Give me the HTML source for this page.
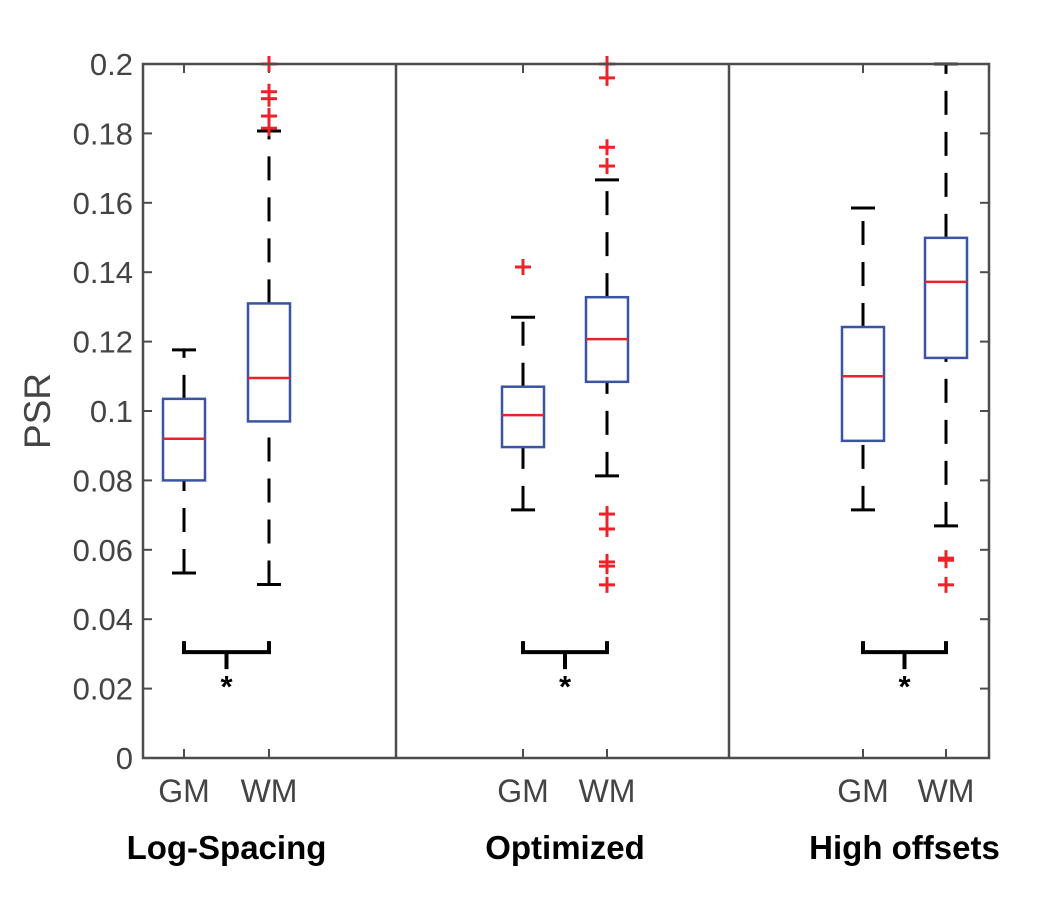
<!DOCTYPE html>
<html><head><meta charset="utf-8"><style>
body{margin:0;background:#fff}
svg{display:block;font-family:"Liberation Sans",Arial,sans-serif}
</style></head><body>
<svg id="c" width="1046" height="900"></svg>
<script>
const groups=["Log-Spacing","Optimized","High offsets"];
const cats=["GM","WM"];
const yTicks=[0,0.02,0.04,0.06,0.08,0.1,0.12,0.14,0.16,0.18,0.2];
// [lowWhisker, q1, median, q3, highWhisker]
const logGM=[0.0533,0.080,0.092,0.1035,0.1176];
const logWM=[0.050,0.097,0.1095,0.131,0.1807];
const optGM=[0.0715,0.0896,0.0988,0.107,0.127];
const optWM=[0.0813,0.1084,0.1207,0.1328,0.1666];
const hiGM=[0.0715,0.0914,0.110,0.1242,0.1585];
const hiWM=[0.0669,0.1153,0.1372,0.1499,0.200];
const logGMout=[];
const logWMout=[0.2,0.192,0.190,0.185,0.1815];
const optGMout=[0.1415];
const optWMout=[0.2,0.196,0.176,0.1706,0.0703,0.066,0.0565,0.0553,0.0499];
const hiGMout=[];
const hiWMout=[0.0576,0.0570,0.0499];
const sigY=0.0305;

const boxes=[[logGM,logWM],[optGM,optWM],[hiGM,hiWM]];
const outs=[[logGMout,logWMout],[optGMout,optWMout],[hiGMout,hiWMout]];
const L=143,R=989,T=64,B=758;
const y=v=>B-(v/0.2)*(B-T);
const dividers=[396,729];
const xs=[[184,269],[523,607],[863,946]];
const NS="http://www.w3.org/2000/svg";
const svg=document.getElementById('c');
function mk(t,a,p){const e=document.createElementNS(NS,t);for(const k in a)e.setAttribute(k,a[k]);(p||svg).appendChild(e);return e;}
function line(x1,y1,x2,y2,s,w,d,name){const e=mk('line',{x1,y1,x2,y2,stroke:s,'stroke-width':w});if(d)e.setAttribute('stroke-dasharray',d);

return e;}
yTicks.forEach(v=>{const yy=y(v);
line(L,yy,L+9,yy,'#4d4d4d',2,null,'y-tick');line(R,yy,R-9,yy,'#4d4d4d',2,null,'y-tick');
const t=mk('text',{x:L-10,y:yy+11,'text-anchor':'end','font-size':31,fill:'#444'});t.textContent=v===0?'0':String(v);

});
const yl=mk('text',{x:50,y:411,'text-anchor':'middle','font-size':37,fill:'#444',transform:'rotate(-90 50 411)'});yl.textContent='PSR';


dividers.forEach(d=>line(d,T,d,B,'#4d4d4d',2.5,null,'panel-divider'));
groups.forEach((g,gi)=>{
 cats.forEach((c,ci)=>{
  const x=xs[gi][ci];const b=boxes[gi][ci];
  line(x,B,x,B-9,'#4d4d4d',2,null,'x-tick');line(x,T,x,T+9,'#4d4d4d',2,null,'x-tick');
  const t=mk('text',{x:x,y:802,'text-anchor':'middle','font-size':32,fill:'#444'});t.textContent=c;
  
  
  line(x,y(b[3]),x,y(b[4]),'#000',3,'24 17','upper-whisker');
  line(x,y(b[0]),x,y(b[1]),'#000',3,'24 17','lower-whisker');
  line(x-12,y(b[4]),x+12,y(b[4]),'#000',3,null,'whisker-cap');
  line(x-12,y(b[0]),x+12,y(b[0]),'#000',3,null,'whisker-cap');
  const r=mk('rect',{x:x-21,y:y(b[3]),width:42,height:y(b[1])-y(b[3]),fill:'none',stroke:'#3a53a4','stroke-width':2.5});
  
  
  line(x-21,y(b[2]),x+21,y(b[2]),'#e8212a',2.5,null,'median-line');
  outs[gi][ci].forEach(o=>{const yy=y(o);
   line(x-8,yy,x+8,yy,'#ee2229',3,null,'outlier');line(x,yy-8,x,yy+8,'#ee2229',3,null,'outlier');});
 });
 const x1=xs[gi][0],x2=xs[gi][1],sy=y(sigY),mx=(x1+x2)/2;
 const p=mk('path',{d:`M${x1},${sy-11}V${sy}H${x2}V${sy-11}M${mx},${sy}V${sy+17}`,fill:'none',stroke:'#000','stroke-width':4});
 
 
 const s=mk('text',{x:mx,y:sy+45,'text-anchor':'middle','font-size':31,'font-weight':'bold',fill:'#000'});s.textContent='*';
 
 
 const gt=mk('text',{x:mx,y:859,'text-anchor':'middle','font-size':33,'font-weight':'bold',fill:'#000'});gt.textContent=g;
 
 
});
const fr=mk('rect',{x:L,y:T,width:R-L,height:B-T,fill:'none',stroke:'#4d4d4d','stroke-width':2.5});


</script>
</body></html>
